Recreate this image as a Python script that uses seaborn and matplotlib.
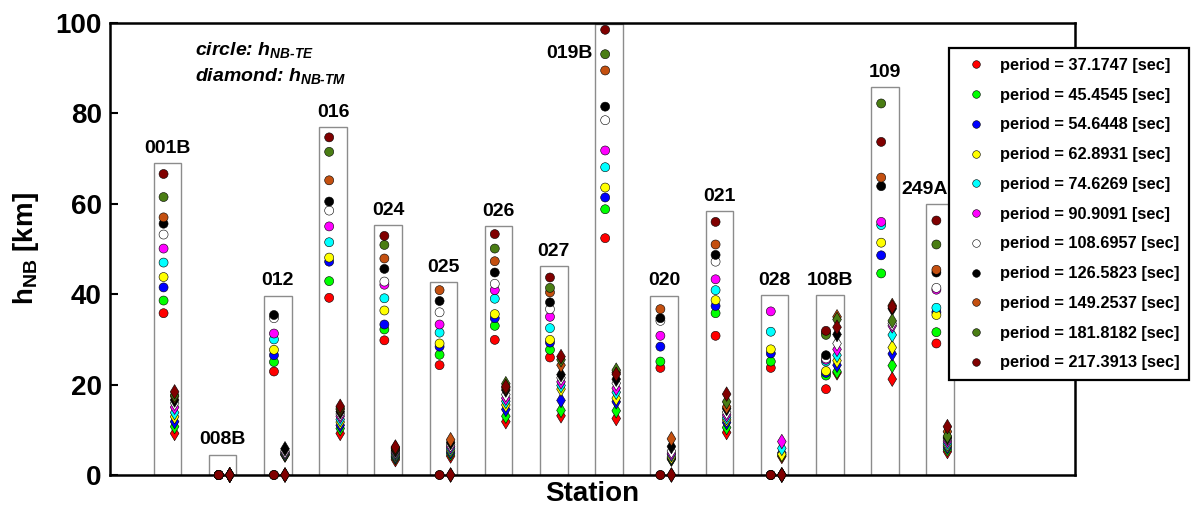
import numpy as np
import pandas as pd
import matplotlib
matplotlib.use("Agg")
import matplotlib.pyplot as plt
from matplotlib.lines import Line2D
import seaborn as sns

# stations along x, and height of the grey box drawn behind each one
stations = ["001B", "008B", "012", "016", "024", "025", "026", "027",
            "019B", "020", "021", "028", "108B", "109", "249A"]
box_top = [69.0, 4.5, 39.7, 77.0, 55.3, 42.7, 55.0, 46.2,
           99.8, 39.7, 58.4, 39.8, 39.8, 85.8, 60.0]

periods = [37.1747, 45.4545, 54.6448, 62.8931, 74.6269, 90.9091,
           108.6957, 126.5823, 149.2537, 181.8182, 217.3913]
colors = ["#ff0000", "#00ff00", "#0000ff", "#ffff00", "#00ffff", "#ff00ff",
          "#ffffff", "#000000", "#c45010", "#4a7d14", "#800000"]

nan = np.nan
# h_NB-TE (circles), one row per station, one column per period
h_te = [
    [35.8, 38.6, 41.5, 43.8, 47.0, 50.1, 53.2, 55.6, 57.0, 61.5, 66.6],
    [0, 0, 0, 0, 0, 0, 0, 0, 0, 0, 0],
    [22.9, 25.0, 26.5, 27.7, 30.0, 31.3, 34.7, 35.4, 0, 0, 0],
    [39.2, 42.9, 47.2, 48.1, 51.5, 55.0, 58.5, 60.5, 65.2, 71.5, 74.7],
    [29.8, 32.2, 33.3, 36.4, 39.1, 42.1, 42.8, 45.6, 47.9, 50.9, 52.9],
    [24.3, 26.6, 28.4, 29.1, 31.5, 33.3, 36.0, 38.5, 40.9, 0, 0],
    [29.9, 33.0, 34.7, 35.6, 39.0, 40.9, 42.3, 44.8, 47.3, 50.1, 53.3],
    [26.0, 27.7, 29.3, 29.9, 32.5, 35.0, 36.7, 38.2, 40.4, 41.4, 43.7],
    [52.4, 58.8, 61.4, 63.6, 68.1, 71.8, 78.5, 81.5, 89.5, 93.1, 98.5],
    [23.7, 25.1, 28.4, nan, nan, 30.8, 34.1, 34.7, 36.7, 0, 0],
    [30.8, 35.8, 37.4, 38.7, 40.9, 43.3, 47.2, 48.7, 51.0, nan, 56.0],
    [23.7, 25.1, 26.9, 27.8, 31.7, 36.2, 0, 0, 0, 0, 0],
    [19.0, 22.0, 22.6, 23.0, 25.1, 25.5, 25.8, 26.5, 31.5, 31.0, 31.9],
    [nan, 44.6, 48.6, 51.4, 55.3, 56.0, nan, 63.9, 65.8, 82.2, 73.7],
    [29.1, 31.6, 36.0, 35.4, 37.0, 41.0, 41.4, 44.8, 45.4, 51.0, 56.3],
]
# h_NB-TM (diamonds)
h_tm = [
    [9.2, 10.7, 11.8, 12.9, 13.8, 15.0, 15.9, 16.6, 17.4, 17.7, 18.4],
    [0, 0, 0, 0, 0, 0, 0, 0, 0, 0, 0],
    [4.4, 4.5, 4.6, 4.7, 4.9, 5.1, 5.3, 5.8, 0, 0, 0],
    [9.2, 10.3, 11.0, 11.7, 12.3, 13.0, 13.5, 14.0, 14.5, 14.8, 15.2],
    [3.4, 3.8, 4.1, 4.4, 4.7, 5.0, 5.2, 5.5, 5.8, 6.0, 6.2],
    [4.2, 4.7, 5.1, 5.5, 5.9, 6.3, 6.7, 7.2, 7.8, 0, 0],
    [11.8, 13.0, 14.5, 15.5, 16.3, 17.0, 17.8, 18.8, 19.3, 20.2, 19.6],
    [13.1, 14.3, 16.5, 19.0, 19.8, 20.6, 21.5, 22.2, 24.3, 25.5, 26.2],
    [12.5, 14.2, 16.2, 17.0, 18.3, 19.2, 20.3, 21.2, 22.7, 23.2, 22.3],
    [3.5, 3.6, 3.8, 4.0, 4.5, 4.8, 5.3, 6.3, 8.0, 0, 0],
    [9.4, 10.5, 11.6, 12.2, 12.7, 13.3, 13.9, 14.7, 15.1, 16.2, 17.9],
    [4.1, 4.4, 4.9, 4.6, 5.9, 7.4, 0, 0, 0, 0, 0],
    [22.6, 22.9, 24.3, 25.3, 26.5, 27.8, 29.1, 31.1, 35.0, 34.4, 32.7],
    [21.2, 24.2, 26.8, 28.2, 31.0, 33.0, 33.5, 36.8, 37.5, 34.1, 37.2],
    [5.2, 5.7, 6.2, 6.6, 7.0, 7.5, 8.0, 8.3, 9.6, 8.6, 10.7],
]


def long_table(values, offset):
    rows = []
    for i, st in enumerate(stations):
        for j, p in enumerate(periods):
            rows.append({"station": st, "x": i + 1 + offset,
                         "period": p, "h": values[i][j]})
    return pd.DataFrame(rows).dropna()


sns.set_theme(style="white")
plt.rcParams["font.family"] = ["Liberation Sans", "DejaVu Sans"]
plt.rcParams["font.weight"] = "bold"
plt.rcParams["mathtext.default"] = "regular"
plt.rcParams["text.color"] = "black"
plt.rcParams["axes.labelcolor"] = "black"
plt.rcParams["ytick.color"] = "black"

fig = plt.figure(figsize=(11.92, 5.07), dpi=100)
ax = fig.add_axes([0.0923, 0.0631, 0.8095, 0.8915])

xpos = np.arange(1, len(stations) + 1)
ax.bar(xpos, box_top, width=0.5, fill=False, edgecolor="#8c8c8c",
       linewidth=1.0, zorder=1)

palette = dict(zip(periods, colors))
te_df = long_table(h_te, -0.07)
tm_df = long_table(h_tm, 0.13)
sns.scatterplot(data=te_df, x="x", y="h", hue="period", palette=palette,
                marker="o", s=42, edgecolor="black", linewidth=0.4,
                legend=False, ax=ax, zorder=3, clip_on=False)
sns.scatterplot(data=tm_df, x="x", y="h", hue="period", palette=palette,
                marker="d", s=55, edgecolor="black", linewidth=0.4,
                legend=False, ax=ax, zorder=3, clip_on=False)

# station names above boxes (a couple need nudging)
for i, st in enumerate(stations):
    if box_top[i] > 95:
        ax.text(xpos[i] - 0.3, 92.3, st, ha="right", va="baseline",
                fontsize=14, fontweight="bold")
        continue
    dx = -0.28 if st == "249A" else 0
    ax.annotate(st, (xpos[i] + dx, box_top[i]), xytext=(0, 4.5),
                textcoords="offset points", ha="center", va="bottom",
                fontsize=14, fontweight="bold")

ax.text(0.088, 92.9, "circle: $h_{NB\u2010TE}$", transform=ax.get_yaxis_transform(),
        fontsize=14, fontweight="bold", fontstyle="italic", va="baseline")
ax.text(0.088, 87.2, "diamond: $h_{NB\u2010TM}$", transform=ax.get_yaxis_transform(),
        fontsize=14, fontweight="bold", fontstyle="italic", va="baseline")

ax.set_xlim(-0.04, 17.44)
ax.set_ylim(0, 100)
ax.set_xticks([])
ax.set_yticks([0, 20, 40, 60, 80, 100])
ax.tick_params(axis="y", direction="in", length=6, width=1.5, pad=6,
               labelsize=20, left=True, labelcolor="black")
for lab in ax.get_yticklabels():
    lab.set_fontweight("bold")
for sp in ax.spines.values():
    sp.set_linewidth(1.8)
    sp.set_color("black")
ax.set_xlabel("Station", fontsize=20, fontweight="bold", labelpad=4)
ax.set_ylabel("h$_{NB}$ [km]", fontsize=20, fontweight="bold", labelpad=10)

handles = [Line2D([], [], linestyle="none", marker="o", markersize=5.5,
                  markerfacecolor=c, markeredgecolor="black",
                  markeredgewidth=0.4) for c in colors]
labels = [f"period = {p:.4f} [sec]" for p in periods]
leg = fig.legend(handles, labels, loc="upper left",
                 bbox_to_anchor=(0.796, 0.905), bbox_transform=fig.transFigure,
                 borderaxespad=0, fancybox=False, edgecolor="black",
                 framealpha=1, prop={"weight": "bold", "size": 11.8},
                 borderpad=0.6, handlelength=2.1, handletextpad=0.4,
                 labelspacing=0.9)
leg.get_frame().set_linewidth(1.6)

fig.savefig("out.png", dpi=100)
